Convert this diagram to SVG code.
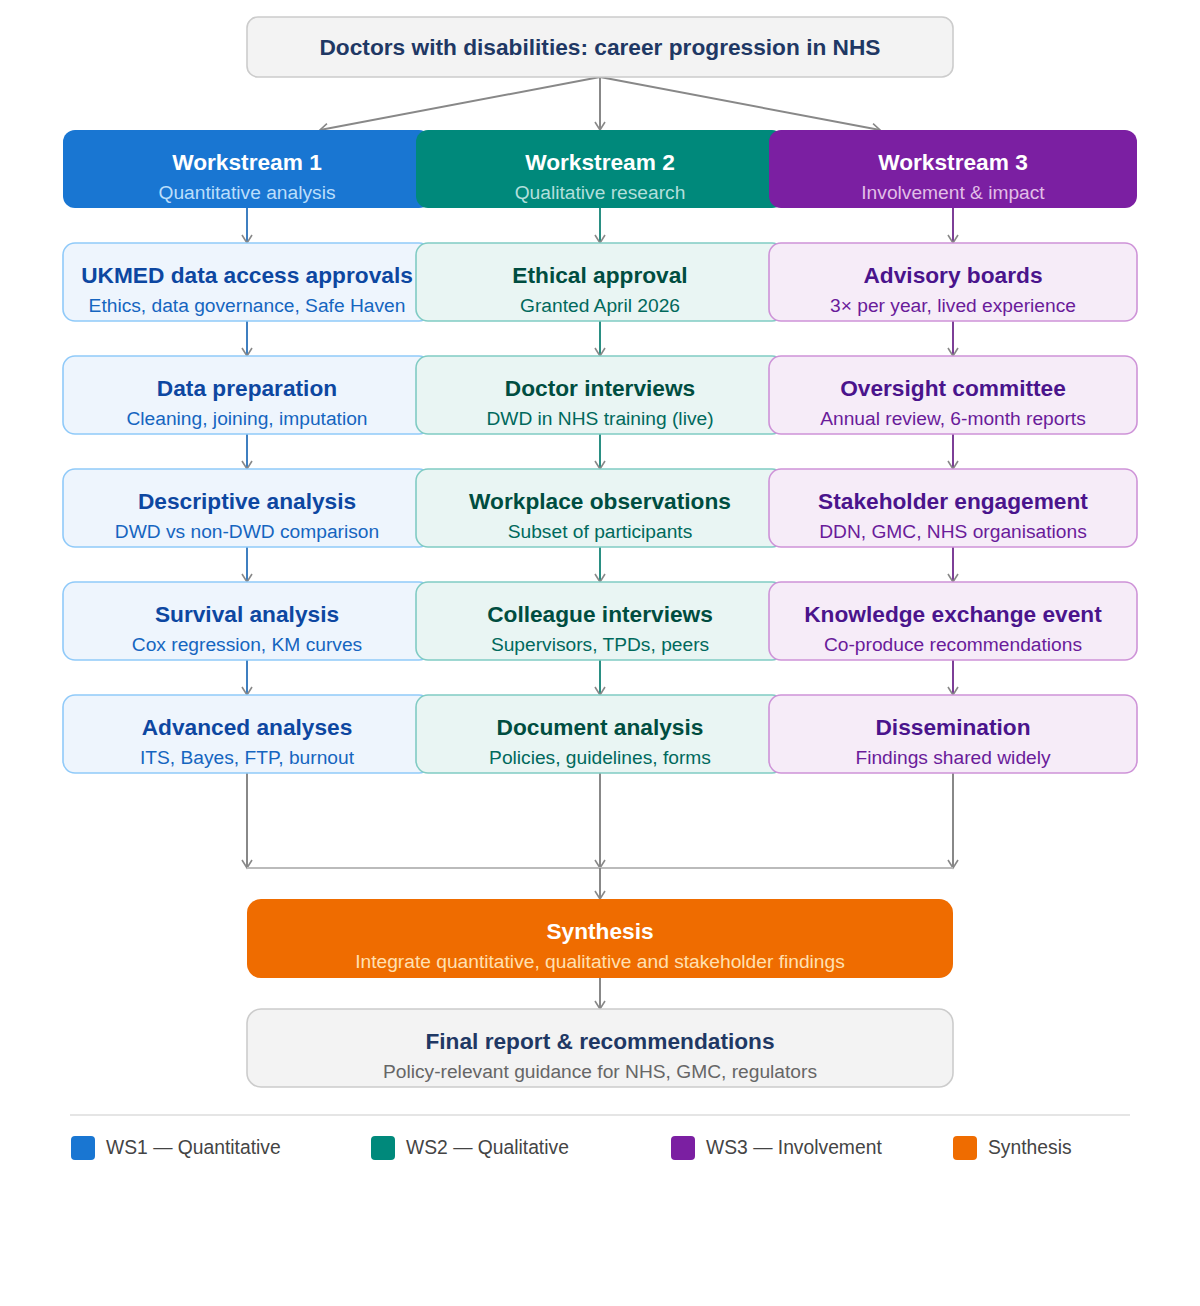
<svg xmlns="http://www.w3.org/2000/svg" width="1200" height="1306" viewBox="0 0 1200 1306">
<style>
text{font-family:"Liberation Sans",Arial,sans-serif;text-anchor:middle}
.t{font-size:22.7px;font-weight:bold}
.s{font-size:19.2px}
.ws rect{stroke:none}
.n1 rect{fill:#eef5fd;stroke:#90caf9;stroke-width:1.6}
.n1 .t{fill:#0d47a1}.n1 .s{fill:#1565c0}
.n2 rect{fill:#e9f5f3;stroke:#80cbc4;stroke-width:1.6}
.n2 .t{fill:#004d40}.n2 .s{fill:#00695c}
.n3 rect{fill:#f6ecf8;stroke:#ce93d8;stroke-width:1.6}
.n3 .t{fill:#4a148c}.n3 .s{fill:#6a1b9a}
.g rect{fill:#f3f3f3;stroke:#cccccc;stroke-width:1.6}
.g .t{fill:#1f3864}.g .s{fill:#666666}
.wt{fill:#ffffff}
.c line{fill:none;stroke-width:2;marker-end:url(#ah)}
.leg{font-size:19.3px;fill:#444444;text-anchor:start}
</style>
<defs>
<marker id="ah" markerUnits="userSpaceOnUse" markerWidth="14" markerHeight="14" refX="10" refY="6" orient="auto">
<path d="M2,1 L10,6 L2,11" fill="none" stroke="#888888" stroke-width="1.6"/>
</marker>
</defs>
<g id="connectors" class="c">
<line x1="600" y1="77" x2="320" y2="130" stroke="#888888"/>
<line x1="600" y1="77" x2="600" y2="130" stroke="#888888"/>
<line x1="600" y1="77" x2="880" y2="130" stroke="#888888"/>
<g stroke="#3f7fc0">
<line x1="247" y1="208" x2="247" y2="243"/>
<line x1="247" y1="321" x2="247" y2="356"/>
<line x1="247" y1="434" x2="247" y2="469"/>
<line x1="247" y1="547" x2="247" y2="582"/>
<line x1="247" y1="660" x2="247" y2="695"/>
</g>
<g stroke="#2a8f83">
<line x1="600" y1="208" x2="600" y2="243"/>
<line x1="600" y1="321" x2="600" y2="356"/>
<line x1="600" y1="434" x2="600" y2="469"/>
<line x1="600" y1="547" x2="600" y2="582"/>
<line x1="600" y1="660" x2="600" y2="695"/>
</g>
<g stroke="#7d3f97">
<line x1="953" y1="208" x2="953" y2="243"/>
<line x1="953" y1="321" x2="953" y2="356"/>
<line x1="953" y1="434" x2="953" y2="469"/>
<line x1="953" y1="547" x2="953" y2="582"/>
<line x1="953" y1="660" x2="953" y2="695"/>
</g>
<line x1="247" y1="773" x2="247" y2="868" stroke="#888888"/>
<line x1="600" y1="773" x2="600" y2="868" stroke="#888888"/>
<line x1="953" y1="773" x2="953" y2="868" stroke="#888888"/>
<line x1="247" y1="868" x2="953" y2="868" stroke="#bbbbbb" style="marker-end:none"/>
<line x1="600" y1="868" x2="600" y2="899" stroke="#888888"/>
<line x1="600" y1="978" x2="600" y2="1009" stroke="#888888"/>
</g>
<g id="title" class="g">
<rect x="247" y="17" width="706" height="60" rx="11"/>
<text class="t" x="600" y="55">Doctors with disabilities: career progression in NHS</text>
</g>
<g id="ws1" class="ws">
<rect x="63" y="130" width="368" height="78" rx="12" fill="#1976d2"/>
<text class="t wt" x="247" y="170">Workstream 1</text>
<text class="s" x="247" y="199" fill="#bbdefb">Quantitative analysis</text>
</g>
<g id="ws2" class="ws">
<rect x="416" y="130" width="368" height="78" rx="12" fill="#00897b"/>
<text class="t wt" x="600" y="170">Workstream 2</text>
<text class="s" x="600" y="199" fill="#b2dfdb">Qualitative research</text>
</g>
<g id="ws3" class="ws">
<rect x="769" y="130" width="368" height="78" rx="12" fill="#7b1fa2"/>
<text class="t wt" x="953" y="170">Workstream 3</text>
<text class="s" x="953" y="199" fill="#e1bee7">Involvement &amp; impact</text>
</g>
<g id="ukmed" class="n1"><rect x="63" y="243" width="368" height="78" rx="12"/><text class="t" x="247" y="283">UKMED data access approvals</text><text class="s" x="247" y="312">Ethics, data governance, Safe Haven</text></g>
<g id="ethical" class="n2"><rect x="416" y="243" width="368" height="78" rx="12"/><text class="t" x="600" y="283">Ethical approval</text><text class="s" x="600" y="312">Granted April 2026</text></g>
<g id="advisory" class="n3"><rect x="769" y="243" width="368" height="78" rx="12"/><text class="t" x="953" y="283">Advisory boards</text><text class="s" x="953" y="312">3× per year, lived experience</text></g>
<g id="dataprep" class="n1"><rect x="63" y="356" width="368" height="78" rx="12"/><text class="t" x="247" y="396">Data preparation</text><text class="s" x="247" y="425">Cleaning, joining, imputation</text></g>
<g id="docint" class="n2"><rect x="416" y="356" width="368" height="78" rx="12"/><text class="t" x="600" y="396">Doctor interviews</text><text class="s" x="600" y="425">DWD in NHS training (live)</text></g>
<g id="oversight" class="n3"><rect x="769" y="356" width="368" height="78" rx="12"/><text class="t" x="953" y="396">Oversight committee</text><text class="s" x="953" y="425">Annual review, 6-month reports</text></g>
<g id="descriptive" class="n1"><rect x="63" y="469" width="368" height="78" rx="12"/><text class="t" x="247" y="509">Descriptive analysis</text><text class="s" x="247" y="538">DWD vs non-DWD comparison</text></g>
<g id="workplace" class="n2"><rect x="416" y="469" width="368" height="78" rx="12"/><text class="t" x="600" y="509">Workplace observations</text><text class="s" x="600" y="538">Subset of participants</text></g>
<g id="stakeholder" class="n3"><rect x="769" y="469" width="368" height="78" rx="12"/><text class="t" x="953" y="509">Stakeholder engagement</text><text class="s" x="953" y="538">DDN, GMC, NHS organisations</text></g>
<g id="survival" class="n1"><rect x="63" y="582" width="368" height="78" rx="12"/><text class="t" x="247" y="622">Survival analysis</text><text class="s" x="247" y="651">Cox regression, KM curves</text></g>
<g id="colleague" class="n2"><rect x="416" y="582" width="368" height="78" rx="12"/><text class="t" x="600" y="622">Colleague interviews</text><text class="s" x="600" y="651">Supervisors, TPDs, peers</text></g>
<g id="knowledge" class="n3"><rect x="769" y="582" width="368" height="78" rx="12"/><text class="t" x="953" y="622">Knowledge exchange event</text><text class="s" x="953" y="651">Co-produce recommendations</text></g>
<g id="advanced" class="n1"><rect x="63" y="695" width="368" height="78" rx="12"/><text class="t" x="247" y="735">Advanced analyses</text><text class="s" x="247" y="764">ITS, Bayes, FTP, burnout</text></g>
<g id="document" class="n2"><rect x="416" y="695" width="368" height="78" rx="12"/><text class="t" x="600" y="735">Document analysis</text><text class="s" x="600" y="764">Policies, guidelines, forms</text></g>
<g id="dissemination" class="n3"><rect x="769" y="695" width="368" height="78" rx="12"/><text class="t" x="953" y="735">Dissemination</text><text class="s" x="953" y="764">Findings shared widely</text></g>
<g id="synthesis">
<rect x="247" y="899" width="706" height="79" rx="14" fill="#ef6c00"/>
<text class="t wt" x="600" y="939">Synthesis</text>
<text class="s" x="600" y="968" fill="#ffe0b2">Integrate quantitative, qualitative and stakeholder findings</text>
</g>
<g id="final" class="g">
<rect x="247" y="1009" width="706" height="78" rx="14"/>
<text class="t" x="600" y="1049">Final report &amp; recommendations</text>
<text class="s" x="600" y="1078">Policy-relevant guidance for NHS, GMC, regulators</text>
</g>
<g id="legend">
<line x1="70" y1="1115" x2="1130" y2="1115" stroke="#dddddd" stroke-width="1.5"/>
<rect x="71" y="1136" width="24" height="24" rx="4" fill="#1976d2"/>
<text class="leg" x="106" y="1154">WS1 — Quantitative</text>
<rect x="371" y="1136" width="24" height="24" rx="4" fill="#00897b"/>
<text class="leg" x="406" y="1154">WS2 — Qualitative</text>
<rect x="671" y="1136" width="24" height="24" rx="4" fill="#7b1fa2"/>
<text class="leg" x="706" y="1154">WS3 — Involvement</text>
<rect x="953" y="1136" width="24" height="24" rx="4" fill="#ef6c00"/>
<text class="leg" x="988" y="1154">Synthesis</text>
</g>
</svg>
